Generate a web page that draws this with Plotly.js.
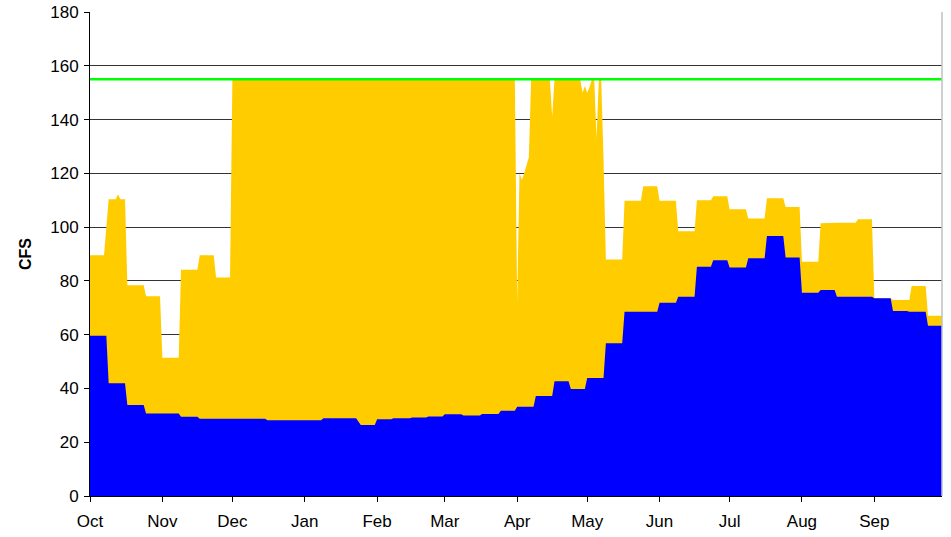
<!DOCTYPE html>
<html>
<head>
<meta charset="utf-8">
<script src="https://cdn.plot.ly/plotly-3.0.1.min.js"></script>
<style>html,body{margin:0;padding:0;background:#fff;}#chart{width:951px;height:537px;}</style>
</head>
<body>
<div id="chart"></div>
<script>
// Total flow (top of the yellow area), CFS
const totalDates = ['2007-10-01','2007-10-07','2007-10-09','2007-10-12','2007-10-13','2007-10-14','2007-10-16','2007-10-17','2007-10-24','2007-10-25','2007-10-31','2007-11-01','2007-11-08','2007-11-09','2007-11-16','2007-11-17','2007-11-23','2007-11-24','2007-11-30','2007-12-01',
  '2008-03-31','2008-04-01','2008-04-02','2008-04-03','2008-04-04','2008-04-05','2008-04-06','2008-04-07','2008-04-15','2008-04-16','2008-04-17','2008-04-28','2008-04-29','2008-04-30','2008-05-01','2008-05-02','2008-05-03','2008-05-04','2008-05-05','2008-05-06','2008-05-07','2008-05-08','2008-05-09',
  '2008-05-16','2008-05-17','2008-05-24','2008-05-25','2008-05-31','2008-06-01','2008-06-08','2008-06-09','2008-06-16','2008-06-17','2008-06-23','2008-06-24','2008-06-30','2008-07-01','2008-07-08','2008-07-09','2008-07-16','2008-07-17','2008-07-24','2008-07-25','2008-07-31',
  '2008-08-01','2008-08-08','2008-08-09','2008-08-16','2008-08-24','2008-08-25','2008-08-31','2008-09-01','2008-09-08','2008-09-09','2008-09-16','2008-09-17','2008-09-23','2008-09-24','2008-09-30'];
const totalCfs = [89.5,89.5,110.4,110.4,112.2,110.4,110.4,78.4,78.4,74.3,74.3,51.4,51.4,84.1,84.1,89.5,89.5,81.3,81.3,155,
  155,72,120,117.5,120,123,126,155,155,141,155,155,150,152.5,150,152,155,155,133,155,155,125,88,
  88,109.8,109.8,115.2,115.2,109.8,109.8,98.5,98.5,110,110,111.5,111.5,106.6,106.6,103.2,103.2,110.7,110.7,107.5,107.5,
  87.1,87.1,101.4,101.6,101.6,102.9,102.9,73.5,73.5,72.9,72.9,78.1,78.1,67.0,67.0];

// Base flow (top of the blue area), CFS
const baseDates = ['2007-10-01','2007-10-08','2007-10-09','2007-10-16','2007-10-17','2007-10-24','2007-10-25','2007-11-08','2007-11-09','2007-11-16','2007-11-17','2007-12-15','2007-12-16',
  '2008-01-08','2008-01-09','2008-01-23','2008-01-25','2008-01-31','2008-02-01','2008-02-07','2008-02-08','2008-02-15','2008-02-16','2008-02-22','2008-02-23','2008-02-29',
  '2008-03-01','2008-03-08','2008-03-09','2008-03-16','2008-03-17','2008-03-24','2008-03-25','2008-03-31','2008-04-01','2008-04-08','2008-04-09','2008-04-16','2008-04-17','2008-04-23','2008-04-24','2008-04-30',
  '2008-05-01','2008-05-08','2008-05-09','2008-05-16','2008-05-17','2008-05-31','2008-06-01','2008-06-08','2008-06-09','2008-06-16','2008-06-17','2008-06-23','2008-06-24','2008-06-30',
  '2008-07-01','2008-07-08','2008-07-09','2008-07-16','2008-07-17','2008-07-24','2008-07-25','2008-07-31','2008-08-01','2008-08-08','2008-08-09','2008-08-15','2008-08-16','2008-08-31',
  '2008-09-01','2008-09-08','2008-09-09','2008-09-15','2008-09-16','2008-09-23','2008-09-24','2008-09-30'];
const baseCfs = [59.6,59.6,41.9,41.9,33.8,33.8,30.7,30.7,29.5,29.5,28.7,28.7,28.2,
  28.2,28.9,28.9,26.4,26.4,28.5,28.5,28.9,28.9,29.2,29.2,29.6,29.6,
  30.4,30.4,29.9,29.9,30.5,30.5,31.7,31.7,33.2,33.2,37.2,37.2,42.7,42.7,39.8,39.8,
  43.9,43.9,56.8,56.8,68.5,68.5,71.9,71.9,74.1,74.1,85.3,85.3,87.7,87.7,
  85.0,85.0,88.4,88.4,96.7,96.7,88.7,88.7,75.6,75.6,76.6,76.6,74.1,74.1,
  73.5,73.5,68.8,68.8,68.5,68.5,63.3,63.3];

// Green reference line
const limitDates = ['2007-10-01','2008-09-30'];
const limitCfs = [155,155];

const yTicks = [0,20,40,60,80,100,120,140,160,180];

const FONT = 'Liberation Sans, Arial, sans-serif';

const traces = [
  {x: totalDates, y: totalCfs, type: 'scatter', mode: 'lines', fill: 'tozeroy',
   fillcolor: '#FFCC00', line: {color: '#FFCC00', width: 0}, hoverinfo: 'skip'},
  {x: baseDates, y: baseCfs, type: 'scatter', mode: 'lines', fill: 'tozeroy',
   fillcolor: '#0000FF', line: {color: '#0000FF', width: 0}, hoverinfo: 'skip'},
  {x: limitDates, y: limitCfs, type: 'scatter', mode: 'lines',
   line: {color: '#00FF00', width: 2.5}, hoverinfo: 'skip'}
];

const layout = {
  width: 951, height: 537,
  margin: {l: 90, r: 9, t: 12, b: 41},
  paper_bgcolor: '#ffffff', plot_bgcolor: '#ffffff',
  showlegend: false,
  font: {family: FONT, size: 17, color: '#000'},
  xaxis: {
    type: 'date', range: ['2007-10-01', '2008-09-30'],
    tick0: '2007-10-01', dtick: 'M1', tickformat: '%b',
    showgrid: false, zeroline: false,
    showline: true, linecolor: '#000', linewidth: 1,
    ticks: 'outside', ticklen: 5, tickcolor: '#000',
    ticklabelstandoff: 5,
    tickfont: {family: FONT, size: 17, color: '#000'}
  },
  yaxis: {
    range: [0, 180], tickvals: yTicks, ticktext: yTicks.map(String),
    showgrid: true, gridcolor: '#333333', gridwidth: 1, zeroline: false,
    showline: true, linecolor: '#000', linewidth: 1,
    ticks: 'outside', ticklen: 5, tickcolor: '#000',
    ticklabelstandoff: 2,
    tickfont: {family: FONT, size: 17, color: '#000'},
    title: {text: '<b>CFS</b>', font: {family: FONT, size: 16, color: '#000'}, standoff: 14}
  },
  shapes: [
    {type: 'line', xref: 'paper', yref: 'paper', x0: 1, x1: 1, y0: 0, y1: 1,
     line: {color: '#c0c0c0', width: 1.5}}
  ]
};

Plotly.newPlot('chart', traces, layout, {staticPlot: true, displayModeBar: false});
</script>
</body>
</html>
